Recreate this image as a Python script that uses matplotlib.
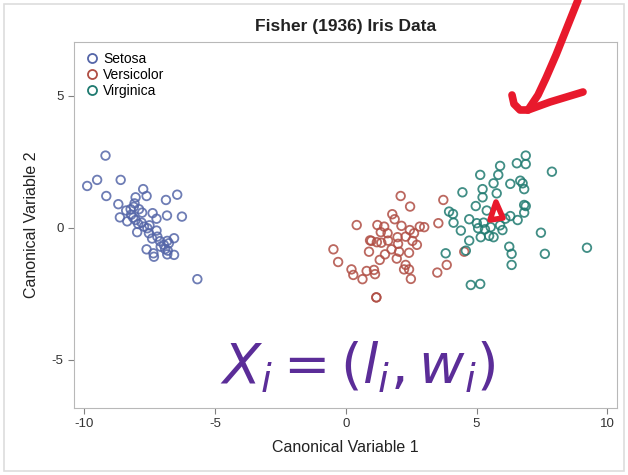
import matplotlib
matplotlib.use("Agg")
import matplotlib.pyplot as plt
from matplotlib.lines import Line2D
from matplotlib.patches import Rectangle, Polygon

plt.rcParams['font.family'] = ['Liberation Sans', 'DejaVu Sans']
plt.rcParams['axes.unicode_minus'] = False

# canonical scores per species
setosa_x = [-9.18, -9.50, -9.88, -8.60, -9.15, -7.74, -8.03, -7.61, -6.44, -6.87,
            -8.69, -8.07, -8.39, -8.22, -7.90, -7.78, -7.38, -8.63, -8.12, -7.23,
            -6.83, -6.26, -8.35, -8.03, -7.93, -7.71, -7.58, -7.97, -7.52, -7.23,
            -7.20, -6.56, -6.82, -6.95, -6.76, -7.07, -7.61, -6.80, -7.35, -7.33,
            -6.82, -6.56, -5.67, -8.20, -7.80, -7.50, -7.10, -6.90, -7.40, -8.10]
setosa_y = [2.74, 1.82, 1.59, 1.82, 1.21, 1.47, 1.16, 1.21, 1.26, 1.06,
            0.90, 0.93, 0.66, 0.71, 0.71, 0.58, 0.56, 0.40, 0.39, 0.35,
            0.47, 0.43, 0.25, 0.30, 0.15, 0.05, -0.01, -0.16, -0.20, -0.10,
            -0.33, -0.39, -0.49, -0.64, -0.58, -0.71, -0.81, -0.86, -0.96, -1.09,
            -1.00, -1.02, -1.94, 0.50, 0.20, 0.10, -0.50, -0.80, -0.40, 0.80]

versicolor_x = [2.10, 2.46, 0.42, 1.78, 1.87, 1.21, 1.47, 2.13, 2.83, 3.00,
                1.34, 2.45, 2.61, 1.98, 2.29, 0.98, 1.19, 1.36, 1.62, 2.55,
                2.72, 1.75, 2.04, 2.42, 0.89, -0.47, -0.29, 1.30, 1.95, 2.29,
                2.42, 2.23, 0.22, 0.29, 0.64, 0.80, 1.08, 1.12, 2.49, 1.17,
                1.17, 3.54, 3.73, 3.50, 3.86, 0.93, 4.53, 1.60, 2.00, 1.50]
versicolor_y = [1.21, 0.81, 0.11, 0.52, 0.33, 0.11, 0.05, 0.08, 0.05, 0.03,
                -0.16, -0.08, -0.20, -0.35, -0.33, -0.49, -0.54, -0.56, -0.48, -0.49,
                -0.64, -0.81, -0.90, -0.94, -0.90, -0.81, -1.29, -1.21, -1.16, -1.40,
                -1.57, -1.57, -1.57, -1.78, -1.94, -1.63, -1.59, -1.75, -1.93, -2.63,
                -2.63, 0.18, 1.06, -1.69, -1.40, -0.47, -0.90, -0.20, -0.60, -1.00]

virginica_x = [6.88, 6.54, 6.88, 5.90, 7.88, 5.83, 5.14, 5.65, 6.29, 6.67,
               6.76, 6.82, 5.23, 4.46, 5.77, 5.23, 4.97, 5.39, 6.82, 6.88,
               6.82, 6.29, 6.57, 3.95, 4.10, 4.12, 4.72, 5.01, 5.27, 4.40,
               5.06, 5.32, 5.54, 5.99, 5.16, 5.48, 5.65, 4.72, 7.46, 6.25,
               6.34, 7.61, 9.22, 3.82, 4.59, 6.34, 4.78, 5.14, 5.90, 6.10]
virginica_y = [2.74, 2.45, 2.42, 2.35, 2.13, 2.01, 2.01, 1.69, 1.67, 1.79,
               1.69, 1.47, 1.47, 1.35, 1.31, 1.16, 0.83, 0.66, 0.87, 0.83,
               0.58, 0.45, 0.30, 0.62, 0.53, 0.20, 0.33, 0.18, 0.20, -0.10,
               -0.01, -0.05, 0.03, -0.08, -0.35, -0.30, -0.35, -0.48, -0.18, -0.71,
               -0.98, -0.98, -0.75, -0.96, -0.86, -1.40, -2.16, -2.12, 0.10, 0.35]

species = ['Setosa', 'Versicolor', 'Virginica']
colors = ['#5566a8', '#b04e44', '#1f7a70']

fig = plt.figure(figsize=(6.28, 4.75), dpi=100)
fig.patches.append(Rectangle((0.006, 0.008), 0.988, 0.984, transform=fig.transFigure,
                             fill=False, edgecolor='#dddddd', linewidth=1.2))
ax = fig.add_axes([0.118, 0.141, 0.865, 0.771])

for xs, ys, c, name in zip([setosa_x, versicolor_x, virginica_x],
                           [setosa_y, versicolor_y, virginica_y], colors, species):
    ax.scatter(xs, ys, s=38, facecolors='none', edgecolors=c, linewidths=1.3,
               alpha=0.85, label=name)

ax.set_xlim(-10.38, 10.38)
ax.set_ylim(-6.82, 7.05)
ax.set_xticks([-10, -5, 0, 5, 10])
ax.set_yticks([-5, 0, 5])
ax.tick_params(colors='#808080', labelcolor='#333333', labelsize=9.5, length=4)
for s in ax.spines.values():
    s.set_color('#b8b8b8')

ax.set_title('Fisher (1936) Iris Data', fontsize=12.5, fontweight='bold', color='#222222', pad=8)
ax.set_xlabel('Canonical Variable 1', fontsize=11.5, color='#222222', labelpad=7)
ax.set_ylabel('Canonical Variable 2', fontsize=11.5, color='#222222', labelpad=9)

handles = [Line2D([], [], marker='o', linestyle='none', markerfacecolor='none',
                  markeredgecolor=c, markersize=6.5, markeredgewidth=1.3) for c in colors]
ax.legend(handles, species, loc='upper left', frameon=False, fontsize=10,
          handletextpad=0.2, labelspacing=0.15, borderaxespad=0.3, handlelength=1.2)

# hand-drawn notes on top of the plot
red = '#e8192c'
fig.add_artist(Line2D([578/628, 568/628, 556/628, 546/628, 538/628, 528/628],
                      [1 - 0/475, 1 - 25/475, 1 - 55/475, 1 - 78/475, 1 - 95/475, 1 - 110/475],
                      color=red, linewidth=5.5, solid_capstyle='round',
                      transform=fig.transFigure))
fig.add_artist(Line2D([512/628, 514/628, 520/628, 528/628, 550/628, 583/628],
                      [1 - 95/475, 1 - 104/475, 1 - 110/475, 1 - 110/475, 1 - 102/475, 1 - 92/475],
                      color=red, linewidth=5.5, solid_capstyle='round',
                      solid_joinstyle='round', transform=fig.transFigure))
tri = Polygon([[496/628, 1 - 202/475], [490/628, 1 - 220/475], [503/628, 1 - 218/475]],
              closed=True, fill=False, edgecolor=red, linewidth=4, joinstyle='round',
              transform=fig.transFigure)
fig.add_artist(tri)
fig.text(0.57, 1 - 368/475, r'$X_i = (l_i, w_i)$', color='#5b2d98', fontsize=40,
         ha='center', va='center')

fig.savefig('out.png', dpi=100)
